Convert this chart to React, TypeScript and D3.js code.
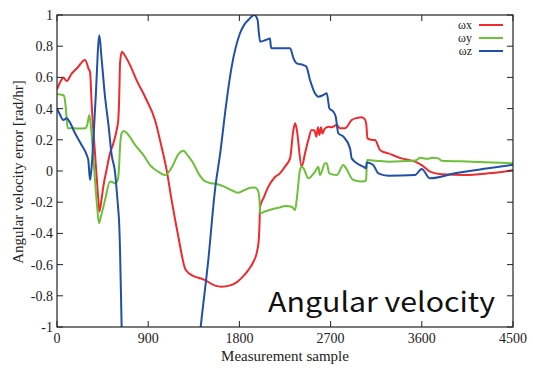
import React from "react";
import * as d3 from "d3";

const W = 533, H = 369;
const M = { left: 57, right: 513, top: 15, bottom: 327 };

const xTicks = [0, 900, 1800, 2700, 3600, 4500];
const yTicks = [-1, -0.8, -0.6, -0.4, -0.2, 0, 0.2, 0.4, 0.6, 0.8, 1];
const yTickLabels = ["-1", "-0.8", "-0.6", "-0.4", "-0.2", "0", "0.2", "0.4", "0.6", "0.8", "1"];

const seriesNames = ["ωx", "ωy", "ωz"];
const seriesColors = ["#ee2a2e", "#6cc03a", "#2050a8"];

// [sample, value]
const wx: (number | null)[][] = [
  [0, 0.524], [40, 0.58], [62, 0.6], [96, 0.577], [140, 0.62], [200, 0.66], [276, 0.712], [300, 0.68], [309, 0.658], [326, 0.636],
  [342, 0.43], [375, 0.113], [408, -0.186], [418, -0.261], [440, -0.18], [457, -0.1], [490, 0.01], [523, 0.113], [556, 0.177],
  [589, 0.263], [605, 0.33], [615, 0.5], [622, 0.69], [640, 0.765], [660, 0.75], [720, 0.68], [785, 0.583], [880, 0.46],
  [967, 0.327], [1030, 0.16], [1082, 0.006], [1131, -0.186], [1197, -0.42], [1263, -0.624], [1300, -0.655], [1329, -0.667],
  [1460, -0.699], [1560, -0.735], [1625, -0.742], [1700, -0.735], [1757, -0.72], [1830, -0.68], [1888, -0.635], [1940, -0.58],
  [1970, -0.528], [1990, -0.45], [1998, -0.35], [2004, -0.23], [2040, -0.17], [2086, -0.1], [2150, -0.04], [2200, -0.015],
  [2250, 0.028], [2300, 0.081], [2330, 0.25], [2349, 0.306], [2365, 0.27], [2414, 0.028], [2450, 0.12], [2480, 0.199],
  [2513, 0.263], [2540, 0.26], [2560, 0.22], [2575, 0.28], [2590, 0.23], [2605, 0.28], [2620, 0.24], [2640, 0.27],
  [2678, 0.284], [2710, 0.28], [2760, 0.295], [2793, 0.274], [2842, 0.274], [2908, 0.327], [2960, 0.34], [3007, 0.344],
  [3039, 0.33], [3052, 0.3], [3064, 0.209], [3100, 0.2], [3138, 0.199], [3187, 0.135], [3230, 0.12], [3270, 0.113],
  [3340, 0.095], [3401, 0.081], [3470, 0.07], [3533, 0.06], [3599, 0.038], [3681, -0.004], [3796, -0.021], [4026, -0.026],
  [4256, -0.015], [4500, 0.005],
];

const wy: (number | null)[][] = [
  [0, 0.494], [30, 0.49], [62, 0.487], [75, 0.47], [90, 0.38], [105, 0.274], [150, 0.275], [200, 0.272], [283, 0.274],
  [300, 0.3], [319, 0.359], [335, 0.284], [355, 0.12], [375, -0.058], [395, -0.22], [414, -0.335], [430, -0.3],
  [474, -0.186], [523, -0.068], [545, -0.07], [572, -0.079], [599, -0.058], [612, 0.02], [622, 0.156], [638, 0.242],
  [660, 0.256], [700, 0.235], [770, 0.167], [850, 0.105], [918, 0.038], [1000, -0.005], [1066, -0.026], [1130, 0.02],
  [1200, 0.11], [1247, 0.13], [1290, 0.1], [1345, 0.049], [1400, -0.02], [1444, -0.058], [1500, -0.075], [1576, -0.083],
  [1650, -0.1], [1730, -0.125], [1789, -0.139], [1850, -0.122], [1905, -0.108], [1950, -0.105], [1980, -0.12],
  [1998, -0.18], [2004, -0.271], [2050, -0.26], [2120, -0.245], [2201, -0.233], [2250, -0.224], [2316, -0.229],
  [2349, -0.25], [2365, -0.186], [2398, 0.006], [2414, 0.028], [2431, 0.02], [2480, -0.047], [2546, -0.004],
  [2579, 0.028], [2595, -0.026], [2645, 0.049], [2661, 0.05], [2687, -0.015], [2760, -0.026], [2826, 0.038],
  [2850, 0.02], [2924, -0.058], [3023, -0.068], [3050, -0.06], [3060, 0.07], [3187, 0.064], [3270, 0.06], [3516, 0.065],
  [3560, 0.075], [3582, 0.085], [3650, 0.078], [3714, 0.085], [3763, 0.081], [3796, 0.066], [4092, 0.06], [4500, 0.049],
];

const wz: (number | null)[][] = [
  [0, 0.402], [30, 0.36], [62, 0.327], [96, 0.338], [120, 0.32], [178, 0.242], [240, 0.17], [293, 0.103], [309, 0.07],
  [326, -0.058], [342, 0.028], [380, 0.45], [418, 0.87], [440, 0.72], [474, 0.476], [507, 0.3], [540, 0.1], [572, -0.004],
  [589, -0.122], [605, -0.25], [612, -0.314], [622, -0.506], [638, -1.0], [646, -1.2],
  [null, null],
  [1410, -1.05], [1418, -1.0], [1493, -0.571], [1559, -0.122], [1615, 0.135], [1658, 0.37], [1724, 0.669], [1806, 0.883],
  [1850, 0.94], [1888, 0.968], [1947, 1.0], [1980, 0.968], [1990, 0.9], [2004, 0.829], [2060, 0.84], [2102, 0.85],
  [2110, 0.8], [2119, 0.787], [2267, 0.787], [2300, 0.787], [2335, 0.72], [2365, 0.69], [2431, 0.679], [2460, 0.67],
  [2497, 0.583], [2546, 0.498], [2579, 0.476], [2628, 0.487], [2661, 0.498], [2676, 0.45], [2687, 0.402], [2727, 0.38],
  [2750, 0.35], [2776, 0.242], [2826, 0.22], [2892, 0.145], [2908, 0.081], [2990, 0.038], [3030, 0.025], [3050, 0.017],
  [3056, 0.055], [3121, 0.038], [3171, -0.015], [3270, -0.03], [3533, -0.026], [3599, 0.013], [3681, -0.047],
  [3928, -0.015], [4256, 0.017], [4500, 0.04],
];

const seriesData = [wx, wy, wz];

export default function App() {
  const x = d3.scaleLinear().domain([0, 4500]).range([M.left, M.right]);
  const y = d3.scaleLinear().domain([-1, 1]).range([M.bottom, M.top]);
  const line = d3
    .line<(number | null)[]>()
    .defined((d) => d[0] !== null)
    .x((d) => x(d[0] as number))
    .y((d) => y(d[1] as number))
    .curve(d3.curveMonotoneX);

  const serif = "'Liberation Serif', 'Times New Roman', serif";
  const tickLen = 6;

  return (
    <svg width={W} height={H} style={{ position: "absolute", left: 0, top: 0, background: "#fff" }}>
      <defs>
        <clipPath id="plotclip">
          <rect x={M.left} y={M.top} width={M.right - M.left} height={M.bottom - M.top} />
        </clipPath>
      </defs>
      <rect x={0} y={0} width={W} height={H} fill="#fff" />
      <g clipPath="url(#plotclip)">
        {seriesData.map((s, i) => (
          <path key={i} d={line(s) || ""} fill="none" stroke={seriesColors[i]} strokeWidth={2} strokeLinejoin="round" />
        ))}
      </g>
      {/* frame */}
      <rect x={M.left} y={M.top} width={M.right - M.left} height={M.bottom - M.top} fill="none" stroke="#222" strokeWidth={1.2} />
      {/* ticks */}
      {xTicks.map((t) => (
        <g key={"xt" + t}>
          <line x1={x(t)} x2={x(t)} y1={M.bottom} y2={M.bottom - tickLen} stroke="#222" />
          <line x1={x(t)} x2={x(t)} y1={M.top} y2={M.top + tickLen} stroke="#222" />
          <text x={x(t)} y={343} textAnchor="middle" fontFamily={serif} fontSize={14} fill="#222">
            {t}
          </text>
        </g>
      ))}
      {yTicks.map((t, i) => (
        <g key={"yt" + i}>
          <line x1={M.left} x2={M.left + tickLen} y1={y(t)} y2={y(t)} stroke="#222" />
          <line x1={M.right} x2={M.right - tickLen} y1={y(t)} y2={y(t)} stroke="#222" />
          <text x={53} y={y(t) + 5} textAnchor="end" fontFamily={serif} fontSize={14} fill="#222">
            {yTickLabels[i]}
          </text>
        </g>
      ))}
      {/* axis titles */}
      <text x={285} y={361} textAnchor="middle" fontFamily={serif} fontSize={15} fill="#222">
        Measurement sample
      </text>
      <text
        transform={`translate(23,172) rotate(-90)`}
        textAnchor="middle"
        fontFamily={serif}
        fontSize={15}
        fill="#222"
      >
        Angular velocity error [rad/hr]
      </text>
      {/* legend */}
      {seriesNames.map((n, i) => (
        <g key={n}>
          <text x={472} y={25 + i * 13 + 4} textAnchor="end" fontFamily={serif} fontSize={12} fill="#222">
            {n}
          </text>
          <line x1={479} x2={503} y1={25 + i * 13} y2={25 + i * 13} stroke={seriesColors[i]} strokeWidth={2} />
        </g>
      ))}
      {/* annotation */}
      <text
        x={268}
        y={312}
        fontFamily="'Noto Sans CJK JP', 'Noto Sans', sans-serif"
        fontSize={27}
        fill="#111"
        textLength={227}
        lengthAdjust="spacingAndGlyphs"
      >
        Angular velocity
      </text>
    </svg>
  );
}
